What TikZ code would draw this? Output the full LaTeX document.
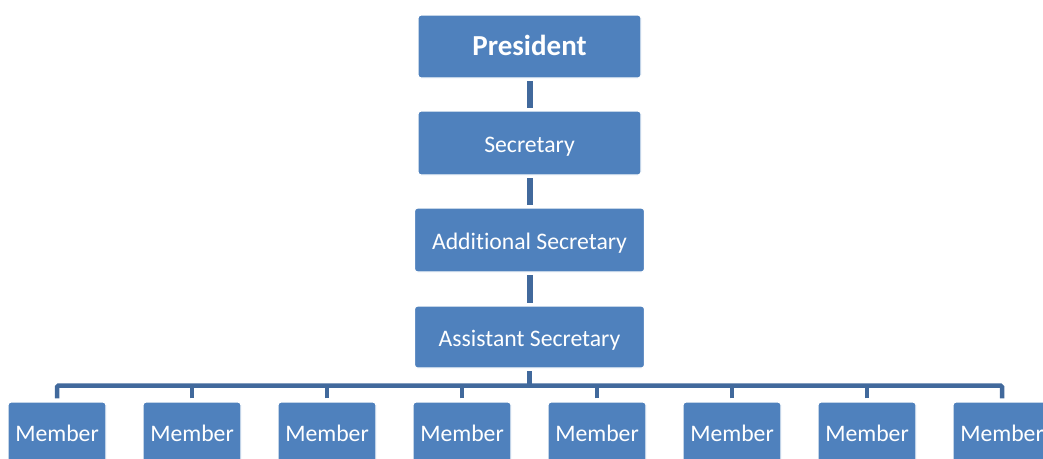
\documentclass[tikz,border=0pt]{standalone}
\usepackage{fontspec}
\setmainfont{Carlito}[Ligatures=NoCommon]
\definecolor{boxblue}{HTML}{4F81BD}
\definecolor{connblue}{HTML}{41699C}
\tikzset{
  orgbox/.style={rectangle, rounded corners=3pt, fill=boxblue, draw=white, line width=1.2pt,
    text=white, font=\fontsize{23.7}{28}\selectfont, inner sep=0pt, align=center,
    text height=18pt, text depth=0pt},
  memberbox/.style={orgbox, minimum width=98pt, minimum height=63pt, text height=16pt},
  conn/.style={draw=connblue, line width=6pt, shorten <=2.5pt, shorten >=2.5pt},
  busline/.style={draw=connblue, line width=4.5pt}
}
\begin{document}
\begin{tikzpicture}[x=1pt,y=-1pt]
\useasboundingbox (0,0) rectangle (1043,458);
\clip (0,0) rectangle (1043,458);
\node[orgbox, minimum width=223pt, minimum height=63pt, font=\fontsize{29}{34}\selectfont\bfseries, text height=17pt] (pres) at (529.5,46.5) {President};
\node[orgbox, minimum width=223pt, minimum height=64pt] (sec) at (529.5,143) {Secretary};
\node[orgbox, minimum width=230pt, minimum height=64pt] (add) at (529.5,240) {Addit\kern0pt ional Secretary};
\node[orgbox, minimum width=230pt, minimum height=62pt] (asst) at (529.5,337) {Assistant Secretary};
\foreach \i in {1,...,8} {
  \node[memberbox] (m\i) at ({57+135*(\i-1)},433.5) {Member};
}
\coordinate (bus) at (529.5,385.5);
\draw[conn] (pres) -- (sec);
\draw[conn] (sec) -- (add);
\draw[conn] (add) -- (asst);
\draw[busline, shorten <=2.5pt] (asst.south) -- (bus);
\draw[busline, rounded corners=1.5pt, shorten <=3pt, shorten >=3pt] (m1.north) |- (bus) -| (m8.north);
\foreach \i in {2,...,7} {
  \draw[busline, shorten <=3pt] (m\i.north) -- (m\i.north |- bus);
}
\end{tikzpicture}
\end{document}
